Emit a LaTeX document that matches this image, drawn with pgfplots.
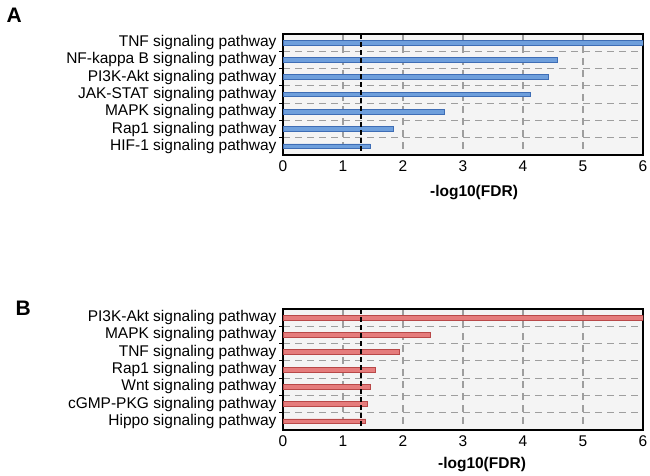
\documentclass[border=0pt]{standalone}
\usepackage{fontspec}
\setmainfont{Liberation Sans}
\usepackage{pgfplots}
\pgfplotsset{compat=1.18}

\definecolor{barblue}{HTML}{6E9FDC}
\definecolor{edgeblue}{HTML}{3E6DB5}
\definecolor{barred}{HTML}{E57C7C}
\definecolor{edgered}{HTML}{B84848}
\definecolor{bggray}{HTML}{F4F4F4}
\definecolor{gridgray}{HTML}{9E9E9E}

\pgfplotsset{
  pathway/.style={
    scale only axis, width=360bp, height=121bp,
    anchor=north west,
    xmin=0, xmax=6, ymin=-0.5, ymax=6.5, y dir=reverse,
    xtick={0,...,6},
    ytick={0,...,6},
    minor ytick={0.5,1.5,...,5.5},
    tick pos=left,
    xmajorgrids=true, yminorgrids=true, ymajorgrids=false,
    grid style={gridgray, dash pattern=on 7bp off 5bp, line width=1.1bp},
    minor grid style={gridgray, dash pattern=on 7bp off 5bp, line width=1.1bp},
    major tick length=0pt, minor tick length=4bp, tick align=outside,
    tick style={black, line width=1bp},
    axis line style={black, line width=1.6bp},
    axis background/.style={fill=bggray},
    /pgf/number format/assume math mode=true,
    tick label style={font=\fontsize{15.5bp}{18bp}\selectfont},
    yticklabel style={xshift=-3bp},
    xticklabel style={yshift=-2bp},
    label style={font=\fontsize{15.5bp}{18bp}\selectfont\bfseries},
    xlabel={-log10(FDR)},
    clip=true,
  }
}

\begin{document}
\begin{tikzpicture}
\path[use as bounding box] (0,0) rectangle (650bp,-476bp);
\node[anchor=base west, font=\fontsize{21bp}{24bp}\selectfont\bfseries] at (3bp,-22bp) {A};
\node[anchor=base west, font=\fontsize{21bp}{24bp}\selectfont\bfseries] at (12bp,-315bp) {B};

\begin{axis}[pathway, at={(283bp,-34bp)},
  yticklabels={TNF signaling pathway, NF-kappa B signaling pathway, PI3K-Akt signaling pathway, JAK-STAT signaling pathway, MAPK signaling pathway, Rap1 signaling pathway, HIF-1 signaling pathway},
  xlabel style={at={(axis description cs:0.5,0)}, anchor=center, yshift=-38bp, xshift=11bp}]
\addplot[xbar, bar width=4.8bp, fill=barblue, draw=edgeblue, line width=0.8bp]
  coordinates {(6,0) (4.57,1) (4.42,2) (4.12,3) (2.69,4) (1.84,5) (1.45,6)};
\addplot[black, line width=1.3bp, dash pattern=on 5bp off 3bp] coordinates {(1.3,-0.5) (1.3,6.5)};
\end{axis}

\begin{axis}[pathway, at={(283bp,-309bp)},
  yticklabels={PI3K-Akt signaling pathway, MAPK signaling pathway, TNF signaling pathway, Rap1 signaling pathway, Wnt signaling pathway, cGMP-PKG signaling pathway, Hippo signaling pathway},
  xlabel style={at={(axis description cs:0.5,0)}, anchor=center, yshift=-35bp, xshift=19bp}]
\addplot[xbar, bar width=4.8bp, fill=barred, draw=edgered, line width=0.8bp]
  coordinates {(6,0) (2.45,1) (1.94,2) (1.54,3) (1.46,4) (1.40,5) (1.38,6)};
\addplot[black, line width=1.3bp, dash pattern=on 5bp off 3bp] coordinates {(1.3,-0.5) (1.3,6.5)};
\end{axis}
\end{tikzpicture}
\end{document}
